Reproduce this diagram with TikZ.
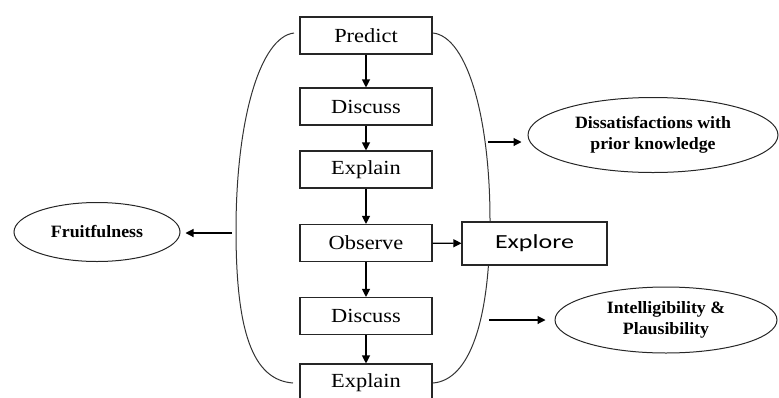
\documentclass[tikz,border=0pt]{standalone}
\usepackage{fontspec}
\setmainfont{Liberation Serif}
\newfontfamily\boxfont{Liberation Serif}[FakeStretch=1.12]
\newfontfamily\ellfont{Liberation Serif}[FakeStretch=1.03]
\newfontfamily\explfont{Carlito}[FakeStretch=1.3]
\usetikzlibrary{shapes.geometric,arrows.meta}
\begin{document}
\begin{tikzpicture}[x=1pt,y=-1pt,
  stepbox/.style={draw=black!85,line width=1.1pt,fill=white,minimum width=132pt,minimum height=37pt,inner sep=0pt,font=\boxfont\fontsize{20}{24}\selectfont},
  explbox/.style={draw=black!85,line width=1.1pt,fill=white,minimum width=145pt,minimum height=43pt,inner sep=0pt,font=\explfont\fontsize{20}{24}\selectfont},
  ell/.style={ellipse,draw=black!85,line width=1pt,inner sep=0pt,align=center,font=\ellfont\bfseries\fontsize{17.3}{20.5}\selectfont},
  arr/.style={-{Triangle[length=8pt,width=8pt]},line width=1.1pt},
  loop/.style={line width=1pt,draw=black!80}]
\useasboundingbox (0,0) rectangle (779,397);
\clip (0,0) rectangle (779,397);
% curves first (behind boxes)
\coordinate (lt) at (294,33);
\coordinate (lb) at (293,383);
\coordinate (rt) at (433,33);
\coordinate (rb) at (433,383);
\draw[loop] (lt) .. controls (260,37) and (236,120) .. (236,230) .. controls (236,330) and (252,380) .. (lb);
\draw[loop] (rt) .. controls (468,37) and (490,120) .. (490,220) .. controls (490,320) and (470,380) .. (rb);
% boxes
\node[stepbox] (predict) at (366,35.5) {Predict};
\node[stepbox] (discuss1) at (366,106.5) {Discuss};
\node[stepbox] (explain1) at (366,169.5) {Explain};
\node[stepbox] (observe) at (366,243) {Observe};
\node[stepbox] (discuss2) at (366,316) {Discuss};
\node[stepbox,minimum height=38pt] (explain2) at (366,383) {Explain};
\node[explbox] (explore) at (534.5,243.5) {Explore};
% ellipses
\node[ell,minimum width=250pt,minimum height=75pt] (dissat) at (653,135) {Dissatisfactions with\\prior knowledge};
\node[ell,minimum width=166pt,minimum height=59pt] (fruit) at (97,232) {Fruitfulness};
\node[ell,minimum width=222pt,minimum height=66pt] (intel) at (666,320) {Intelligibility \&\\Plausibility};
% vertical arrows
\draw[arr] (predict) -- (discuss1);
\draw[arr] (discuss1) -- (explain1);
\draw[arr] (explain1) -- (observe);
\draw[arr] (observe) -- (discuss2);
\draw[arr] (discuss2) -- (explain2);
\draw[arr] (observe) -- (explore);
% side arrows
\coordinate (a1) at (488,142);
\coordinate (a2) at (232,233);
\coordinate (a3) at (489,320);
\draw[arr,shorten >=6pt] (a1) -- (a1 -| dissat.west);
\draw[arr,shorten >=5pt] (a2) -- (a2 -| fruit.east);
\draw[arr,shorten >=9pt] (a3) -- (a3 -| intel.west);
\end{tikzpicture}
\end{document}
